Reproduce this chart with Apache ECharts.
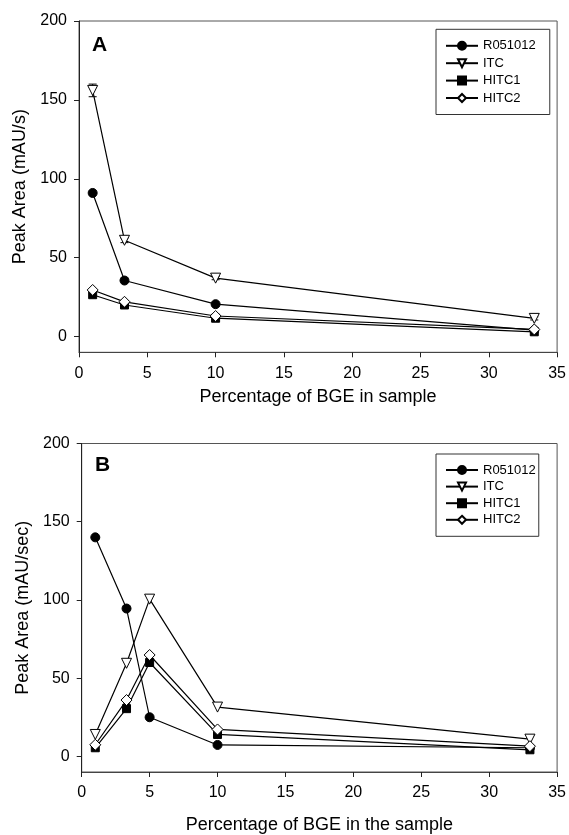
<!DOCTYPE html>
<html>
<head>
<meta charset="utf-8">
<script src="https://cdn.jsdelivr.net/npm/echarts@6/dist/echarts.min.js"></script>
<style>html,body{margin:0;padding:0;background:#fff}#c{width:569px;height:835px}</style>
</head>
<body>
<div id="c"></div>
<script>
// ---------- Data ----------
const seriesNames = ['R051012', 'ITC', 'HITC1', 'HITC2'];
const yTicks = [0, 50, 100, 150, 200];

// Panel A
const xA = [1, 3.33, 10, 33.33];
const aR051012 = [91, 35.5, 20.5, 4];
const aITC = [156, 61, 37, 11.5];
const aHITC1 = [26.5, 20, 11.6, 3];
const aHITC2 = [29.5, 22, 13, 4.5];
const aITCerr = [4, 1.5, 1, 1];

// Panel B
const xB = [1, 3.3, 5, 10, 33];
const bR051012 = [140, 94.5, 25, 7.3, 5.5];
const bITC = [14, 59.5, 100.5, 31.5, 11];
const bHITC1 = [5.5, 30.5, 60, 14, 4.2];
const bHITC2 = [7.4, 36, 64.8, 17.2, 6.5];

// ---------- Chart ----------
const FONT = '"Liberation Sans", Arial, sans-serif';
const styles = {
  'R051012': {symbol: 'circle', symbolSize: 9, symbolRotate: 0, itemStyle: {color: '#000', borderColor: '#000', borderWidth: 1}},
  'ITC': {symbol: 'triangle', symbolSize: 10, symbolRotate: 180, itemStyle: {color: '#fff', borderColor: '#000', borderWidth: 1}},
  'HITC1': {symbol: 'rect', symbolSize: 8, symbolRotate: 0, itemStyle: {color: '#000', borderColor: '#000', borderWidth: 1}},
  'HITC2': {symbol: 'diamond', symbolSize: 11, symbolRotate: 0, itemStyle: {color: '#fff', borderColor: '#000', borderWidth: 1}}
};

function lineSeries(name, xs, ys, idx) {
  const s = styles[name];
  return {
    name: name, type: 'line', xAxisIndex: idx, yAxisIndex: idx,
    data: xs.map((x, i) => [x, ys[i]]),
    symbol: s.symbol, symbolSize: s.symbolSize, symbolRotate: s.symbolRotate,
    showAllSymbol: true,
    color: '#000',
    lineStyle: {color: '#000', width: 1.2},
    itemStyle: s.itemStyle,
    z: 3,
    animation: false
  };
}

function xAxis(idx, name, nameGap) {
  return {
    type: 'value', gridIndex: idx, min: 0, max: 35, interval: 5,
    name: name, nameLocation: 'middle', nameGap: nameGap,
    nameTextStyle: {fontFamily: FONT, fontSize: 18, color: '#000'},
    axisLine: {show: true, onZero: false, lineStyle: {color: '#444', width: 1}},
    axisTick: {show: true, inside: false, length: 5, lineStyle: {color: '#222'}},
    axisLabel: {fontFamily: FONT, fontSize: 16, color: '#000', margin: 13},
    splitLine: {show: false}
  };
}
function yAxis(idx, name) {
  return {
    type: 'value', gridIndex: idx, min: -10, max: 200,
    name: name, nameLocation: 'middle', nameGap: 49, nameRotate: 90,
    nameTextStyle: {fontFamily: FONT, fontSize: 18, color: '#000'},
    axisLine: {show: true, onZero: false, lineStyle: {color: '#222', width: 1}},
    axisTick: {show: true, inside: false, length: 5, customValues: yTicks, lineStyle: {color: '#222'}},
    axisLabel: {fontFamily: FONT, fontSize: 16, color: '#000', margin: 12, customValues: yTicks},
    splitLine: {show: false}
  };
}
function legend(idx, top, padding, gap) {
  return {
    data: seriesNames, orient: 'vertical', left: 436, top: top,
    padding: padding, itemGap: gap, itemWidth: 32, itemHeight: 10,
    borderColor: '#333', borderWidth: 1, backgroundColor: '#fff',
    textStyle: {fontFamily: FONT, fontSize: 13, color: '#000', lineHeight: 12},
    selectedMode: false
  };
}

const option = {
  backgroundColor: '#fff',
  animation: false,
  title: [
    {text: 'A', left: 92, top: 35, padding: 0, textStyle: {fontFamily: FONT, fontSize: 21, fontWeight: 'bold', color: '#000'}},
    {text: 'B', left: 95, top: 455, padding: 0, textStyle: {fontFamily: FONT, fontSize: 21, fontWeight: 'bold', color: '#000'}}
  ],
  grid: [
    {left: 79, top: 21, width: 480.5, height: 331.3, show: true, borderColor: '#555', borderWidth: 1, backgroundColor: 'transparent'},
    {left: 81.7, top: 443.5, width: 479.8, height: 330.8, show: true, borderColor: '#555', borderWidth: 1, backgroundColor: 'transparent'}
  ],
  xAxis: [xAxis(0, 'Percentage of BGE in sample', 36), xAxis(1, 'Percentage of BGE in the sample', 44)],
  yAxis: [yAxis(0, 'Peak Area (mAU/s)'), yAxis(1, 'Peak Area (mAU/sec)')],
  legend: [legend(0, 29.3, [10, 14, 10, 9], 4.4), legend(1, 454, [9.5, 3, 10, 9], 3.6)],
  series: [
    {
      type: 'custom', xAxisIndex: 0, yAxisIndex: 0, z: 1, silent: true,
      data: xA.map((x, i) => [x, aITC[i] - aITCerr[i], aITC[i] + aITCerr[i]]),
      encode: {x: 0, y: [1, 2]},
      renderItem: function (params, api) {
        const lo = api.coord([api.value(0), api.value(1)]);
        const hi = api.coord([api.value(0), api.value(2)]);
        const w = 4;
        const st = {stroke: '#000', lineWidth: 1};
        return {type: 'group', children: [
          {type: 'line', shape: {x1: lo[0], y1: lo[1], x2: hi[0], y2: hi[1]}, style: st},
          {type: 'line', shape: {x1: hi[0] - w, y1: hi[1], x2: hi[0] + w, y2: hi[1]}, style: st},
          {type: 'line', shape: {x1: lo[0] - w, y1: lo[1], x2: lo[0] + w, y2: lo[1]}, style: st}
        ]};
      }
    },
    lineSeries('R051012', xA, aR051012, 0),
    lineSeries('ITC', xA, aITC, 0),
    lineSeries('HITC1', xA, aHITC1, 0),
    lineSeries('HITC2', xA, aHITC2, 0),
    lineSeries('R051012', xB, bR051012, 1),
    lineSeries('ITC', xB, bITC, 1),
    lineSeries('HITC1', xB, bHITC1, 1),
    lineSeries('HITC2', xB, bHITC2, 1)
  ]
};

const chart = echarts.init(document.getElementById('c'), null, {renderer: 'canvas'});
chart.setOption(option);
</script>
</body>
</html>
